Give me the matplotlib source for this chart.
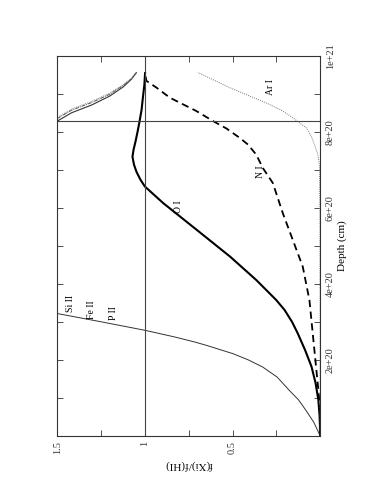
import matplotlib
matplotlib.use("Agg")
import matplotlib.pyplot as plt
import numpy as np

plt.rcParams["font.family"] = ["Liberation Serif", "DejaVu Serif"]

# depth in units of 1e20 cm, ratio f(Xi)/f(HI)
si_lo_depth = [0, 0.352, 0.661, 0.943, 1.189, 1.542, 1.806, 2.000, 2.159, 2.379,
               2.467, 2.599, 2.775, 2.996, 3.216]
si_lo_f = [0, 0.036, 0.080, 0.123, 0.175, 0.245, 0.327, 0.412, 0.497, 0.649,
           0.716, 0.830, 1.0, 1.247, 1.5]
si_hi_f = [1.5, 1.418, 1.304, 1.200, 1.124, 1.077, 1.048]
si_hi_depth = [8.282, 8.502, 8.705, 8.943, 9.181, 9.383, 9.559]
fe_hi_depth = [8.35, 8.57, 8.77, 8.99, 9.22, 9.40, 9.565]
p_hi_depth = [8.38, 8.60, 8.80, 9.02, 9.24, 9.41, 9.57]

o_depth = [0, 0.466, 0.940, 1.388, 1.817, 2.257, 2.697, 2.995, 3.311, 3.574, 4.101,
           4.715, 5.418, 6.121, 6.559, 6.735, 6.946, 7.130, 7.341, 7.525, 7.736,
           8.000, 8.263, 8.579, 8.921, 9.237, 9.546]
o_f = [0, 0.002, 0.010, 0.026, 0.049, 0.086, 0.128, 0.160, 0.203, 0.251, 0.365,
       0.514, 0.704, 0.895, 1.0, 1.025, 1.048, 1.062, 1.071, 1.065, 1.054,
       1.042, 1.031, 1.019, 1.011, 1.003, 0.999]

n_depth = [0, 0.925, 1.806, 2.687, 3.568, 4.449, 5.154, 5.859, 6.652, 7.048, 7.401,
           7.665, 7.841, 8.088, 8.282, 8.546, 8.722, 8.899, 9.163, 9.339, 9.542]
n_f = [0, 0.004, 0.023, 0.042, 0.061, 0.099, 0.156, 0.213, 0.270, 0.327, 0.365,
       0.412, 0.459, 0.535, 0.611, 0.706, 0.782, 0.858, 0.934, 0.991, 1.0]

ar_depth = [0, 3.0, 5.6, 7.137, 7.401, 7.665, 7.885, 8.106, 8.238, 8.370, 8.546,
            8.722, 9.163, 9.559]
ar_f = [0, 0, 0.001, 0.004, 0.013, 0.032, 0.051, 0.080, 0.118, 0.156, 0.213,
        0.289, 0.516, 0.697]

edge_depth = 8.29  # horizontal marker (depth)
labels = [("Si II", 1.425, 3.47), ("Fe II", 1.304, 3.33), ("P II", 1.18, 3.23),
          ("O I", 0.809, 6.03), ("N I", 0.343, 6.95), ("Ar I", 0.286, 9.19)]


def cm(d):
    return np.array(d) * 1e20


fig = plt.figure(figsize=(3.82, 4.94), dpi=100)
ax = fig.add_axes([0.150, 0.118, 0.688, 0.769])

ax.plot(si_lo_f, cm(si_lo_depth), color="#333333", lw=0.7)
ax.plot(si_hi_f, cm(si_hi_depth), color="#333333", lw=0.8)
ax.plot(si_hi_f, cm(fe_hi_depth), color="#555555", lw=0.7, linestyle=(0, (4, 1, 1, 1)))
ax.plot(si_hi_f, cm(p_hi_depth), color="#888888", lw=0.7, linestyle=(0, (1, 1)))
ax.plot(o_f, cm(o_depth), color="black", lw=1.5)
ax.plot(n_f, cm(n_depth), color="black", lw=1.3, linestyle=(0, (4, 2.5)))
ax.plot(ar_f, cm(ar_depth), color="#777777", lw=0.7, linestyle=(0, (1, 1.2)))

ax.axvline(1.0, color="#444444", lw=0.8)
ax.axhline(edge_depth * 1e20, color="#444444", lw=0.8)

for txt, fx, dy in labels:
    ax.text(fx, dy * 1e20, txt, rotation=90, ha="center", va="center", fontsize=7)

ax.set_xlim(1.5, 0)
ax.set_ylim(0, 1e21)

ax.set_xticks([0, 0.5, 1.0, 1.5])
ax.set_xticklabels(["", "0.5", "1", "1.5"])
ax.set_xticks([0.25, 0.75, 1.25], minor=True)
ax.set_yticks([0, 2e20, 4e20, 6e20, 8e20, 1e21])
ax.set_yticklabels(["", "2e+20", "4e+20", "6e+20", "8e+20", "1e+21"])
ax.set_yticks([1e20, 3e20, 5e20, 7e20, 9e20], minor=True)

ax.tick_params(which="both", direction="in", top=True, bottom=True, left=True, right=True,
               labelleft=False, labelright=True, labelsize=7.5, width=0.6, length=4,
               colors="#333333", pad=4)
for lab in ax.get_xticklabels():
    lab.set_rotation(90)
for lab in ax.get_yticklabels():
    lab.set_rotation(90)
    lab.set_va("center")

ax.yaxis.set_label_position("right")
ax.set_ylabel("Depth (cm)", rotation=90, fontsize=8, labelpad=2)
ax.set_xlabel("f(Xi)/f(HI)", rotation=180, fontsize=8, labelpad=4)

for s in ax.spines.values():
    s.set_linewidth(0.8)
    s.set_color("#333333")

fig.savefig("out.png", dpi=100)
